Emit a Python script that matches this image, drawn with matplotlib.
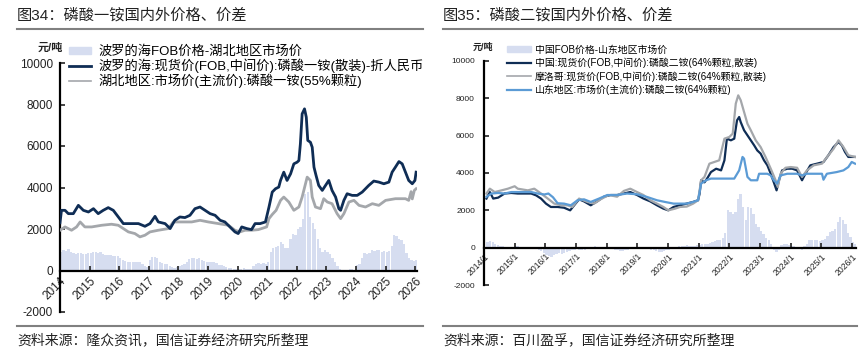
import numpy as np
import matplotlib
matplotlib.use("Agg")
import matplotlib.pyplot as plt
from matplotlib.lines import Line2D
from matplotlib.patches import Patch

plt.rcParams["font.family"] = ["Liberation Sans", "Noto Sans CJK SC", "DejaVu Sans"]
plt.rcParams["axes.unicode_minus"] = False

# ---------------- 图34 data (磷酸一铵) ----------------
baltic_t = [2014.0, 2014.05, 2014.17, 2014.28, 2014.45, 2014.62, 2014.79, 2014.96, 2015.13,
            2015.29, 2015.46, 2015.63, 2015.8, 2015.97, 2016.14, 2016.36, 2016.65, 2016.87,
            2017.04, 2017.21, 2017.32, 2017.55, 2017.72, 2017.88, 2018.05, 2018.22, 2018.39,
            2018.56, 2018.73, 2018.9, 2019.07, 2019.24, 2019.41, 2019.57, 2019.74, 2019.91,
            2020.02, 2020.14, 2020.31, 2020.47, 2020.59, 2020.76, 2020.94, 2021.06, 2021.17,
            2021.28, 2021.39, 2021.45, 2021.56, 2021.67, 2021.79, 2021.9, 2022.01, 2022.07,
            2022.12, 2022.18, 2022.26, 2022.32, 2022.37, 2022.46, 2022.52, 2022.58, 2022.65,
            2022.74, 2022.86, 2022.97, 2023.08, 2023.19, 2023.31, 2023.42, 2023.48, 2023.59,
            2023.7, 2023.87, 2024.04, 2024.21, 2024.43, 2024.6, 2024.77, 2024.94, 2025.11,
            2025.22, 2025.33, 2025.45, 2025.56, 2025.67, 2025.78, 2025.9, 2025.99, 2026.03]
baltic_v = [2300, 2900, 2900, 2740, 2740, 3140, 2900, 2820, 2980,
            2740, 2900, 3030, 2900, 2580, 2260, 2260, 2260, 2130,
            2260, 2610, 2340, 2260, 2020, 2420, 2580, 2550, 2660,
            2980, 3060, 2900, 2740, 2660, 2420, 2340, 2100, 1860,
            1780, 2100, 2020, 1970, 2260, 2260, 2340, 3060, 3780,
            3940, 4020, 4340, 4740, 4340, 4660, 5140, 5220, 5300,
            6100, 7550, 7790, 7390, 6270, 6180, 5940, 4980, 4580,
            4100, 3860, 4100, 4340, 3860, 3540, 2980, 2900, 3380,
            3700, 3620, 3620, 3780, 4100, 4310, 4260, 4180, 4260,
            4740, 4980, 5250, 5140, 4740, 4340, 4180, 4340, 4740]

hubei_t = [2014.0, 2014.17, 2014.39, 2014.56, 2014.68, 2014.84, 2015.07, 2015.41, 2015.74,
           2015.97, 2016.14, 2016.31, 2016.53, 2016.7, 2016.87, 2017.04, 2017.32, 2017.66,
           2017.83, 2018.11, 2018.45, 2018.73, 2019.01, 2019.35, 2019.69, 2019.91, 2020.08,
           2020.25, 2020.47, 2020.7, 2020.98, 2021.06, 2021.17, 2021.3, 2021.45, 2021.56,
           2021.73, 2021.9, 2022.07, 2022.18, 2022.35, 2022.46, 2022.52, 2022.63, 2022.8,
           2022.91, 2023.03, 2023.19, 2023.36, 2023.48, 2023.59, 2023.76, 2023.93, 2024.1,
           2024.32, 2024.55, 2024.77, 2025.0, 2025.33, 2025.67, 2025.78, 2025.86, 2025.9,
           2025.97, 2026.03]
hubei_v = [1940, 2100, 1940, 2100, 2340, 2100, 2100, 2180, 2230,
           2180, 2020, 1860, 1780, 1620, 1700, 1860, 1940, 2020,
           2340, 2340, 2340, 2420, 2340, 2260, 2180, 1940, 1860,
           1940, 1940, 1970, 2100, 2500, 2700, 2900, 3380, 3540,
           3300, 2900, 3060, 3540, 4500, 4340, 3540, 3060, 2980,
           3460, 3300, 3220, 2740, 2500, 2740, 3300, 3380, 3140,
           3060, 3220, 3140, 3380, 3460, 3460, 3380, 3800, 3450,
           3860, 3940]

# 价差, monthly from 2014/1
spread1 = [900, 1000, 950, 1050, 900, 850, 800, 850, 820, 780, 800, 820,
           850, 900, 880, 850, 900, 800, 750, 760, 740, 720, 700, 700,
           600, 500, 480, 420, 400, 420, 430, 420, 400, 300, 200, 150,
           500, 650, 660, 600, 400, 340, 330, 300, 200, 150, 120, 150,
           200, 260, 300, 400, 550, 580, 600, 560, 580, 500, 450, 420,
           420, 400, 420, 350, 260, 250, 200, 150, 100, 100, 80, 60,
           50, 80, 100, 60, 50, 80, 200, 300, 340, 300, 350, 300,
           400, 900, 1100, 1150, 1200, 1380, 1300, 1100, 1070, 1500, 1780, 1700,
           2000, 2100, 2500, 3700, 3800, 2600, 2300, 2000, 1500, 1100, 900, 1000,
           900, 800, 600, 400, 200, 50, 0, 0, 0, 50, 80, 0,
           250, 300, 600, 820, 800, 850, 980, 950, 1000, 980, 900, 950,
           900, 950, 1200, 1700, 1650, 1500, 1460, 1300, 820, 600, 500, 450,
           500]

# ---------------- 图35 data (磷酸二铵) ----------------
china_t = [2014.08, 2014.19, 2014.3, 2014.46, 2014.67, 2014.89, 2015.1, 2015.32, 2015.54,
           2015.7, 2015.86, 2016.02, 2016.18, 2016.4, 2016.61, 2016.81, 2016.94, 2017.1,
           2017.26, 2017.48, 2017.69, 2017.91, 2018.13, 2018.34, 2018.56, 2018.77, 2018.99,
           2019.2, 2019.42, 2019.64, 2019.85, 2020.01, 2020.18, 2020.39, 2020.61, 2020.82,
           2020.98, 2021.03, 2021.08, 2021.19, 2021.3, 2021.4, 2021.57, 2021.73, 2021.84,
           2021.92, 2022.05, 2022.16, 2022.25, 2022.32, 2022.37, 2022.48, 2022.59, 2022.7,
           2022.81, 2022.91, 2023.02, 2023.13, 2023.24, 2023.35, 2023.45, 2023.54, 2023.62,
           2023.72, 2023.89, 2024.05, 2024.21, 2024.37, 2024.48, 2024.64, 2024.86, 2025.07,
           2025.23, 2025.4, 2025.56, 2025.67, 2025.77, 2025.88, 2026.1]
china_v = [2630, 2980, 2630, 2680, 2900, 2930, 2900, 2900, 2900,
           2800, 2630, 2360, 2180, 2180, 2140, 2000, 2270, 2590,
           2480, 2270, 2480, 2730, 2820, 2820, 2900, 2980, 2820,
           2630, 2480, 2270, 2090, 2000, 2180, 2270, 2360, 2450,
           2540, 2890, 3610, 3500, 3770, 4050, 4230, 4140, 4680,
           5840, 5750, 5840, 6820, 7000, 6730, 6290, 6020, 5750,
           5480, 5210, 5040, 4680, 4410, 3960, 3500, 3070, 3610,
           4140, 4230, 4230, 4140, 3610, 3960, 4410, 4500, 4590,
           4950, 5390, 5660, 5480, 5130, 4860, 4860]

morocco_t = [2014.08, 2014.19, 2014.35, 2014.57, 2014.78, 2015.0, 2015.1, 2015.43, 2015.64,
             2015.86, 2016.08, 2016.29, 2016.51, 2016.72, 2016.88, 2017.1, 2017.37, 2017.59,
             2017.8, 2018.07, 2018.34, 2018.56, 2018.77, 2018.99, 2019.2, 2019.42, 2019.64,
             2019.85, 2020.01, 2020.23, 2020.39, 2020.61, 2020.82, 2020.98, 2021.08, 2021.19,
             2021.35, 2021.51, 2021.67, 2021.84, 2022.0, 2022.11, 2022.21, 2022.29, 2022.37,
             2022.48, 2022.59, 2022.7, 2022.86, 2023.02, 2023.18, 2023.35, 2023.51, 2023.58,
             2023.67, 2023.83, 2024.0, 2024.21, 2024.37, 2024.53, 2024.75, 2025.02, 2025.23,
             2025.4, 2025.56, 2025.72, 2025.88, 2026.1]
morocco_v = [2900, 3160, 2980, 3070, 3160, 3290, 3160, 3070, 3160,
             2900, 2630, 2360, 2270, 2270, 2180, 2630, 2450, 2360,
             2590, 2820, 2730, 3040, 3160, 2980, 2820, 2540, 2360,
             2180, 2000, 2090, 2180, 2200, 2360, 2540, 3610, 3790,
             4500, 4590, 4680, 5840, 5930, 6110, 7720, 8160, 7900,
             7270, 6640, 6290, 5750, 5390, 4860, 4230, 3610, 3250,
             3960, 4280, 4320, 4280, 3790, 4140, 4410, 4500, 4950,
             5300, 5750, 5390, 4950, 4860]

shandong_t = [2014.08, 2014.24, 2014.46, 2014.67, 2014.89, 2015.21, 2015.54, 2015.75, 2015.97,
              2016.1, 2016.25, 2016.4, 2016.61, 2016.83, 2017.05, 2017.26, 2017.48, 2017.75,
              2018.02, 2018.34, 2018.66, 2018.99, 2019.31, 2019.64, 2019.9, 2020.18, 2020.39,
              2020.61, 2020.82, 2020.98, 2021.08, 2021.24, 2021.4, 2021.84, 2022.16, 2022.32,
              2022.43, 2022.48, 2022.59, 2022.7, 2022.91, 2022.97, 2023.24, 2023.35, 2023.45,
              2023.56, 2023.67, 2023.89, 2024.21, 2024.37, 2024.53, 2025.02, 2025.07, 2025.18,
              2025.5, 2025.72, 2025.88, 2025.99, 2026.1]
shandong_v = [2720, 2900, 2930, 2900, 2980, 2980, 2980, 2900, 2850,
              2900, 2700, 2380, 2360, 2270, 2540, 2590, 2450, 2630,
              2820, 2820, 2900, 2860, 2720, 2540, 2450, 2360, 2360,
              2360, 2450, 2540, 3430, 3610, 3700, 3700, 3700, 4140,
              4860, 4770, 3790, 3610, 3610, 3960, 3960, 3870, 3610,
              3430, 3870, 3960, 3960, 3870, 3960, 3960, 3640, 3960,
              4050, 4140, 4320, 4590, 4500]

# 价差, monthly from 2014/2
spread2 = [300, 350, 300, 200, 150, 100, 80, 60, 50, 50, 60, 80,
           80, 60, 50, 40, 30, 20, 0, -50, -100, -200, -300, -400,
           -450, -500, -400, -350, -300, -350, -300, -250, -200, -150, -100, 0,
           -100, -150, -100, -50, 0, 50, 80, 60, 50, 30, 20, 0,
           0, -50, -100, -150, -200, -180, -150, -100, -80, -50, 0, 50,
           50, 30, 0, -50, -100, -150, -200, -250, -250, -200, -150, -100,
           -50, 0, 50, 80, 100, 100, 120, 100, 80, 100, 120, 150,
           200, 200, 200, 250, 300, 350, 400, 400, 500, 800, 2000, 1900,
           1820, 1900, 2600, 2890, 2180, 1470, 2180, 2100, 1820, 1290, 1100, 900,
           750, 500, 390, 200, -100, -230, -150, 150, 200, 200, 150, 100,
           100, 50, -50, -100, 100, 200, 390, 400, 390, 400, 350, 390,
           450, 600, 840, 900, 1000, 1400, 1640, 1500, 1290, 800, 570, 300,
           200]

years = list(range(2014, 2027))
labels1 = [str(y) for y in years]
labels2 = [f"{y}/1" for y in years]
yticks = [-2000, 0, 2000, 4000, 6000, 8000, 10000]

bar_c = "#d6ddf0"
navy = "#0f2d55"
grey = "#a4a7ab"
blue = "#5b9bd5"

W, H = 867, 354
fig = plt.figure(figsize=(W / 100, H / 100), dpi=100)


def fx(px):
    return px / W


def fy(py):
    return 1 - py / H


def style_axes(ax, fs, pad_y):
    for s in ["top", "right"]:
        ax.spines[s].set_visible(False)
    ax.spines["left"].set_linewidth(1.6)
    ax.spines["bottom"].set_linewidth(1.6)
    ax.spines["bottom"].set_position(("data", 0))
    ax.set_ylim(-2000, 10000)
    ax.set_yticks(yticks)
    ax.tick_params(direction="in", length=3.5, width=1.2, labelsize=fs, colors="#222222")
    ax.tick_params(axis="y", pad=pad_y)
    ax.tick_params(axis="x", pad=3)


# ---- left chart ----
ax1 = fig.add_axes([fx(60), fy(312), fx(357), (312 - 63) / H])
t1 = 2014.0 + np.arange(len(spread1)) / 12
ax1.bar(t1, spread1, width=0.075, color=bar_c, align="edge", zorder=1)
ax1.plot(hubei_t, hubei_v, color=grey, lw=2.0, zorder=3)
ax1.plot(baltic_t, baltic_v, color=navy, lw=2.0, zorder=4)
ax1.set_xlim(2014.0, 2026.06)
style_axes(ax1, 8.5, 5)
ax1.set_xticks(years)
ax1.set_xticklabels(labels1, rotation=45, ha="right", rotation_mode="anchor")

h1 = [Patch(color=bar_c), Line2D([], [], color=navy, lw=2), Line2D([], [], color=grey, lw=1.2)]
n1 = ["波罗的海FOB价格-湖北地区市场价",
      "波罗的海:现货价(FOB,中间价):磷酸一铵(散装)-折人民币",
      "湖北地区:市场价(主流价):磷酸一铵(55%颗粒)"]
ax1.legend(h1, n1, loc="upper left", bbox_to_anchor=(fx(69), fy(45.5)), bbox_transform=fig.transFigure,
           frameon=False, fontsize=9.5, borderpad=0, borderaxespad=0, handlelength=1.7,
           handleheight=0.5, handletextpad=0.55, labelspacing=0.05)

# ---- right chart ----
ax2 = fig.add_axes([fx(484), fy(285), fx(372), (285 - 61) / H])
t2 = 2014.08 + np.arange(len(spread2)) / 12
ax2.bar(t2, spread2, width=0.075, color=bar_c, align="edge", zorder=1)
ax2.plot(china_t, china_v, color=navy, lw=1.6, zorder=3)
ax2.plot(morocco_t, morocco_v, color=grey, lw=1.6, zorder=4)
ax2.plot(shandong_t, shandong_v, color=blue, lw=1.6, zorder=5)
ax2.set_xlim(2014.08, 2026.13)
style_axes(ax2, 6.2, 6.5)
ax2.tick_params(axis="y", labelsize=6)
ax2.set_xticks(years)
ax2.set_xticklabels(labels2, rotation=45, ha="right", rotation_mode="anchor")

h2 = [Patch(color=bar_c), Line2D([], [], color=navy, lw=1.6),
      Line2D([], [], color=grey, lw=1.2), Line2D([], [], color=blue, lw=1.6)]
n2 = ["中国FOB价格-山东地区市场价",
      "中国:现货价(FOB,中间价):磷酸二铵(64%颗粒,散装)",
      "摩洛哥:现货价(FOB,中间价):磷酸二铵(64%颗粒,散装)",
      "山东地区:市场价(主流价):磷酸二铵(64%颗粒)"]
ax2.legend(h2, n2, loc="upper left", bbox_to_anchor=(fx(507), fy(44.5)), bbox_transform=fig.transFigure,
           frameon=False, fontsize=7.1, borderpad=0, borderaxespad=0, handlelength=2.4,
           handleheight=0.6, handletextpad=0.4, labelspacing=0.32)

# ---- titles, rules, units, sources ----
fig.text(fx(17), fy(15), "图34：磷酸一铵国内外价格、价差", fontsize=11, va="center", color="#222222")
fig.text(fx(443), fy(15), "图35：磷酸二铵国内外价格、价差", fontsize=11, va="center", color="#222222")
for x0, x1 in [(17, 423), (443, 857)]:
    fig.add_artist(Line2D([fx(x0), fx(x1)], [fy(29), fy(29)], color="#808080", lw=1.5))
    fig.add_artist(Line2D([fx(x0), fx(x1)], [fy(326), fy(326)], color="#808080", lw=1.5))
fig.text(fx(50), fy(48), "元/吨", fontsize=8, fontweight="bold", ha="center", va="center", color="#222222")
fig.text(fx(483), fy(47), "元/吨", fontsize=6.5, fontweight="bold", ha="center", va="center", color="#222222")
fig.text(fx(17), fy(340), "资料来源：隆众资讯，国信证券经济研究所整理", fontsize=10, va="center", color="#222222")
fig.text(fx(443), fy(340), "资料来源：百川盈孚，国信证券经济研究所整理", fontsize=10, va="center", color="#222222")

fig.savefig("out.png", dpi=100)
